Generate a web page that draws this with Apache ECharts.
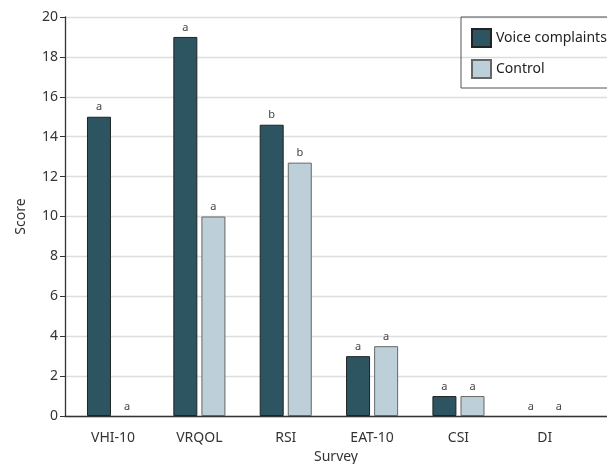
<!DOCTYPE html>
<html lang="en">

<head>
  <meta charset="UTF-8">
  <title>Survey scores</title>
  <script src="https://cdn.jsdelivr.net/npm/echarts@6/dist/echarts.min.js"></script>
  <style>
    html, body { margin: 0; padding: 0; background: #fff; }
    #main { width: 607px; height: 464px; }
  </style>
</head>

<body>
  <div id="main"></div>
  <script>
    // data
    const categories = ['VHI-10', 'VRQOL', 'RSI', 'EAT-10', 'CSI', 'DI']
    const voiceValues = [15, 19, 14.6, 3, 1, 0]
    const controlValues = [0, 10, 12.7, 3.5, 1, 0]
    const voiceSig = ['a', 'a', 'b', 'a', 'a', 'a']
    const controlSig = ['a', 'a', 'b', 'a', 'a', 'a']
    const yTicks = [0, 2, 4, 6, 8, 10, 12, 14, 16, 18, 20]

    const font = 'Noto Sans'
    const positions = categories.map((c, i) => i)

    // [x, y] pairs; zero bars get no outline, like the original
    function pairs(values) {
      return values.map((v, i) => ({
        value: [i, v],
        itemStyle: v === 0 ? { borderWidth: 0 } : undefined
      }))
    }

    let myChart = echarts.init(document.querySelector('#main'))

    let option = {
      textStyle: { fontFamily: font },
      animation: false,
      grid: { left: 65, right: 0, top: 17, bottom: 48, outerBoundsMode: 'none' },
      legend: {
        orient: 'vertical',
        left: 461,
        top: 17,
        padding: [11, 10, 9, 10],
        icon: 'rect',
        itemWidth: 19,
        itemHeight: 18,
        itemGap: 11,
        borderColor: '#555',
        borderWidth: 1,
        textStyle: { fontSize: 14, color: '#222', fontFamily: font },
        data: ['Voice complaints', 'Control']
      },
      xAxis: {
        type: 'value',
        min: -0.556,
        max: 5.72,
        name: 'Survey',
        nameLocation: 'middle',
        nameGap: 34,
        nameTextStyle: { fontSize: 14, color: '#333' },
        axisLine: { show: true, onZero: false, lineStyle: { color: '#333', width: 1.3 } },
        axisTick: { show: false },
        splitLine: { show: false },
        axisLabel: {
          customValues: positions,
          formatter: v => categories[v] || '',
          fontSize: 14,
          color: '#333',
          margin: 15
        }
      },
      yAxis: {
        type: 'value',
        min: yTicks[0],
        max: yTicks[yTicks.length - 1],
        interval: 2,
        name: 'Score',
        nameLocation: 'middle',
        nameGap: 37,
        nameTextStyle: { fontSize: 14, color: '#333' },
        axisLine: { show: true, onZero: false, lineStyle: { color: '#333', width: 1.3 } },
        axisTick: { show: true, length: 5, lineStyle: { color: '#333' } },
        splitLine: { lineStyle: { color: '#ddd', width: 1.3 } },
        axisLabel: { fontSize: 14, color: '#333', margin: 7 }
      },
      series: [
        {
          name: 'Voice complaints',
          type: 'bar',
          barWidth: 24,
          barGap: '17%',
          data: pairs(voiceValues),
          itemStyle: { color: '#2d5461', borderColor: '#222', borderWidth: 1 },
          label: {
            show: true,
            position: 'top',
            distance: 4,
            fontSize: 11,
            color: '#444',
            formatter: p => voiceSig[p.dataIndex]
          }
        },
        {
          name: 'Control',
          type: 'bar',
          barWidth: 24,
          data: pairs(controlValues),
          itemStyle: { color: '#bdd0d9', borderColor: '#666', borderWidth: 1 },
          label: {
            show: true,
            position: 'top',
            distance: 4,
            fontSize: 11,
            color: '#444',
            formatter: p => controlSig[p.dataIndex]
          }
        }
      ]
    }

    myChart.setOption(option)
  </script>
</body>

</html>
